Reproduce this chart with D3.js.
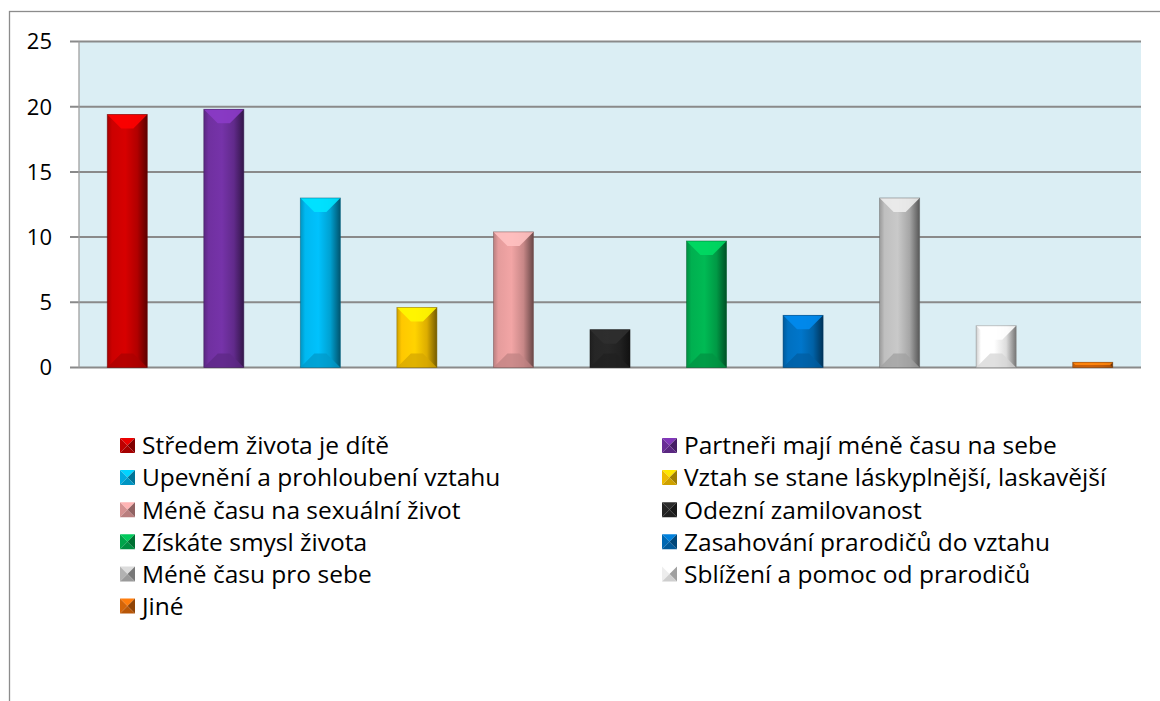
<!DOCTYPE html>
<html><head><meta charset="utf-8">
<script src="https://cdn.jsdelivr.net/npm/d3@7"></script>
<style>body{margin:0;background:#fff}svg{display:block}</style>
</head><body>
<script>
const categories = ["Středem života je dítě","Partneři mají méně času na sebe","Upevnění a prohloubení vztahu","Vztah se stane láskyplnější, laskavější","Méně času na sexuální život","Odezní zamilovanost","Získáte smysl života","Zasahování prarodičů do vztahu","Méně času pro sebe","Sblížení a pomoc od prarodičů","Jiné"];
const values = [19.4, 19.8, 13, 4.6, 10.4, 2.9, 9.7, 4, 13, 3.2, 0.4];
const colors = ["#CC0000","#7030A0","#00B8F0","#FFC800","#E59C9C","#262626","#00B050","#0070C0","#BFBFBF","#FFFFFF","#E46C0A"];
const yTicks = [0,5,10,15,20,25];

const W=1160,H=701;
const svg=d3.select("body").append("svg").attr("width",W).attr("height",H);
const defs=svg.append("defs");
const font="'Open Sans', 'Noto Sans', sans-serif";

// outer frame (extends beyond viewport right/bottom)
svg.append("rect").attr("x",9.5).attr("y",11.5).attr("width",1200).attr("height",800)
  .attr("fill","none").attr("stroke","#8c8c8c").attr("stroke-width",1.3);

const L=79,R=1141,T=41.5,B=367.5;
const x=d3.scaleBand().domain(categories).range([L,R]).paddingInner(0.585).paddingOuter(0.2925);
const y=d3.scaleLinear().domain([0,25]).range([B,T]);

svg.append("rect").attr("x",L).attr("y",T).attr("width",R-L).attr("height",B-T).attr("fill","#DBEEF4");

// gridlines
svg.append("g").selectAll("line").data(yTicks).join("line")
  .attr("x1",70).attr("x2",R).attr("y1",d=>y(d)).attr("y2",d=>y(d))
  .attr("stroke","#8a8a8a").attr("stroke-width",2);
svg.append("line").attr("x1",L).attr("x2",L).attr("y1",T).attr("y2",B).attr("stroke","#a0a0a0").attr("stroke-width",1.3);

// y axis labels
svg.append("g").selectAll("text").data(yTicks).join("text")
  .attr("x",52).attr("y",d=>y(d)).attr("dy","0.36em").attr("text-anchor","end")
  .attr("font-family",font).attr("font-size",22).attr("fill","#000").text(d=>d);

// gradients
colors.forEach((c,i)=>{
  const base=d3.color(c);
  const g=defs.append("linearGradient").attr("id","g"+i).attr("x1","0").attr("x2","1").attr("y1","0").attr("y2","0");
  const stops=[[0,base.darker(0.6)],[0.12,base],[0.45,base.brighter(0.15)],[0.75,base.darker(0.4)],[1,base.darker(2.2)]];
  stops.forEach(s=>g.append("stop").attr("offset",s[0]).attr("stop-color",s[1].formatHex()));
});

const bars=svg.append("g").selectAll("g").data(values).join("g");
bars.each(function(v,i){
  const g=d3.select(this);
  const x0=x(categories[i]),w=x.bandwidth(),x1=x0+w;
  const y0=y(v),y1=y(0),h=y1-y0;
  const d=Math.min(14,h/2,w/2);
  const base=d3.color(colors[i]);
  g.append("rect").attr("x",x0).attr("y",y0).attr("width",w).attr("height",h).attr("fill",`url(#g${i})`);
  // top bevel
  g.append("polygon").attr("points",[[x0,y0],[x1,y0],[x1-d,y0+d],[x0+d,y0+d]].join(" "))
    .attr("fill",base.brighter(0.6).formatHex()).attr("opacity",0.9);
  // bottom bevel
  g.append("polygon").attr("points",[[x0,y1],[x1,y1],[x1-d,y1-d],[x0+d,y1-d]].join(" "))
    .attr("fill",base.darker(0.5).formatHex()).attr("opacity",0.75);
  g.append("rect").attr("x",x0).attr("y",y0).attr("width",w).attr("height",h)
    .attr("fill","none").attr("stroke",base.darker(1.8).formatHex()).attr("stroke-width",0.8).attr("opacity",0.6);
});

// legend
const leg=svg.append("g");
categories.forEach((c,i)=>{
  const col=i%2,row=Math.floor(i/2);
  const mx=col===0?120:662, cy=445.5+row*32.1;
  const s=15, mx1=mx+s, my0=cy-s/2, my1=cy+s/2, cx=mx+s/2;
  const base=d3.color(colors[i]);
  const g=leg.append("g");
  g.append("polygon").attr("points",[[mx,my0],[mx1,my0],[cx,cy]].join(" ")).attr("fill",base.brighter(0.4).formatHex());
  g.append("polygon").attr("points",[[mx,my0],[cx,cy],[mx,my1]].join(" ")).attr("fill",base.darker(0.2).formatHex());
  g.append("polygon").attr("points",[[mx1,my0],[cx,cy],[mx1,my1]].join(" ")).attr("fill",base.darker(1.3).formatHex());
  g.append("polygon").attr("points",[[mx,my1],[cx,cy],[mx1,my1]].join(" ")).attr("fill",base.darker(0.6).formatHex());
  g.append("text").attr("x",col===0?142:684).attr("y",cy).attr("dy","0.36em")
    .attr("font-family",font).attr("font-size",24.5).attr("fill","#000").text(c);
});
</script>
</body></html>
